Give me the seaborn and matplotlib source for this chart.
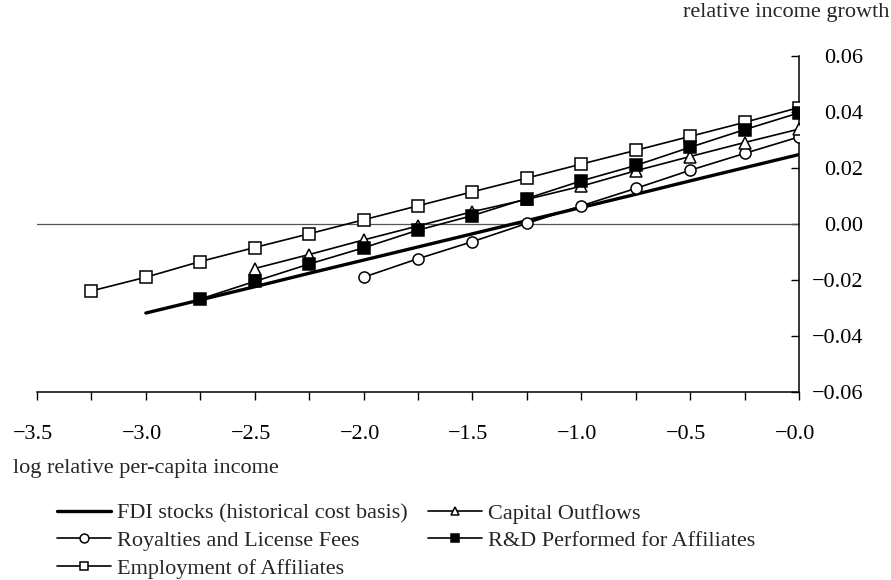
import numpy as np
import pandas as pd
import matplotlib
matplotlib.use("Agg")
import matplotlib.pyplot as plt
import matplotlib.transforms as mtransforms
from matplotlib.ticker import FixedLocator, FuncFormatter
import seaborn as sns

# Relative income growth against log relative per-capita income
fdi_x = [-3.0, -2.75, -2.5, -2.25, -2.0, -1.75, -1.5, -1.25, -1.0, -0.75, -0.5, -0.25, 0.0]
fdi_y = [-0.0318, -0.0271, -0.0224, -0.0176, -0.0129, -0.0082, -0.0035,
         0.0012, 0.0059, 0.0106, 0.0154, 0.0201, 0.0248]

royalties_x = [-2.0, -1.75, -1.5, -1.25, -1.0, -0.75, -0.5, -0.25, 0.0]
royalties_y = [-0.0190, -0.0124, -0.0063, 0.0002, 0.0065, 0.0127, 0.0192, 0.0252, 0.0311]

employment_x = [-3.25, -3.0, -2.75, -2.5, -2.25, -2.0, -1.75, -1.5, -1.25, -1.0,
                -0.75, -0.5, -0.25, 0.0]
employment_y = [-0.0239, -0.0190, -0.0134, -0.0084, -0.0035, 0.0015, 0.0065,
                0.0115, 0.0164, 0.0214, 0.0263, 0.0313, 0.0363, 0.0416]

capital_x = [-2.5, -2.25, -2.0, -1.75, -1.5, -1.25, -1.0, -0.75, -0.5, -0.25, 0.0]
capital_y = [-0.0159, -0.0109, -0.0057, -0.0007, 0.0044, 0.0088, 0.0135,
             0.0190, 0.0241, 0.0291, 0.0339]

rd_x = [-2.75, -2.5, -2.25, -2.0, -1.75, -1.5, -1.25, -1.0, -0.75, -0.5, -0.25, 0.0]
rd_y = [-0.0268, -0.0205, -0.0143, -0.0085, -0.0022, 0.0030, 0.0091, 0.0154,
        0.0209, 0.0274, 0.0337, 0.0397]

series_labels = ["FDI stocks (historical cost basis)", "Royalties and License Fees",
                 "Employment of Affiliates", "Capital Outflows",
                 "R&D Performed for Affiliates"]

x_ticks = [-3.5, -3.25, -3.0, -2.75, -2.5, -2.25, -2.0, -1.75, -1.5, -1.25,
           -1.0, -0.75, -0.5, -0.25, 0.0]
x_label_ticks = [-3.5, -3.0, -2.5, -2.0, -1.5, -1.0, -0.5, 0.0]
y_ticks = [-0.06, -0.04, -0.02, 0.0, 0.02, 0.04, 0.06]

sns.set_style("white")
plt.rcParams["font.family"] = ["Liberation Serif", "DejaVu Serif"]
plt.rcParams["font.size"] = 16
plt.rcParams["axes.unicode_minus"] = True

W, H = 891, 580
fig = plt.figure(figsize=(W / 100, H / 100), dpi=100)
ax = fig.add_axes([37 / W, 1 - 392 / H, (799 - 37) / W, (392 - 56) / H])

# zero reference line
ax.axhline(0, color="#555555", lw=0.9, zorder=1)

line_kw = dict(color="black", lw=1.2, markeredgecolor="black",
               markeredgewidth=1.1, markersize=8)

sns.lineplot(x=fdi_x, y=fdi_y, ax=ax, color="black", lw=2.4,
             label=series_labels[0], zorder=3)
sns.lineplot(x=royalties_x, y=royalties_y, ax=ax, marker="o",
             markerfacecolor="white", label=series_labels[1], zorder=4, **line_kw)
sns.lineplot(x=employment_x, y=employment_y, ax=ax, marker="s",
             markerfacecolor="white", label=series_labels[2], zorder=4, **line_kw)
sns.lineplot(x=capital_x, y=capital_y, ax=ax, marker="^",
             markerfacecolor="white", label=series_labels[3], zorder=5, **line_kw)
sns.lineplot(x=rd_x, y=rd_y, ax=ax, marker="s",
             markerfacecolor="black", label=series_labels[4], zorder=6, **line_kw)

handles, labels = ax.get_legend_handles_labels()
ax.get_legend().remove()

ax.set_xlim(-3.5, 0.0)
ax.set_ylim(-0.06, 0.06)

for side in ("top", "left"):
    ax.spines[side].set_visible(False)
for side in ("right", "bottom"):
    ax.spines[side].set_linewidth(1.1)
    ax.spines[side].set_color("black")

ax.xaxis.set_major_locator(FixedLocator(x_ticks))
ax.xaxis.set_major_formatter(FuncFormatter(
    lambda v, p: ("\u2212%.1f" % abs(v)) if any(abs(v - t) < 1e-9 for t in x_label_ticks) else ""))
ax.yaxis.tick_right()
ax.yaxis.set_major_locator(FixedLocator(y_ticks))
ax.yaxis.set_major_formatter(FuncFormatter(
    lambda v, p: ("\u2212%.2f" % abs(v)) if v < -1e-9 else "%.2f" % abs(v)))

ax.tick_params(axis="x", direction="out", length=6, width=1.0, pad=18,
               labelsize=16, colors="black", bottom=True)
ax.tick_params(axis="y", direction="in", length=6, width=1.0, pad=46,
               labelsize=16, colors="black", right=True, left=False)
for lab in ax.get_yticklabels():
    lab.set_horizontalalignment("right")
shift = mtransforms.ScaledTranslation(-4 / 100, 0, fig.dpi_scale_trans)
for lab in ax.get_xticklabels():
    lab.set_transform(lab.get_transform() + shift)
ax.set_xlabel("")
ax.set_ylabel("")

fig.text(889 / W, 1 - 13 / H, "relative income growth", ha="right", va="center",
         fontsize=16)
fig.text(13 / W, 1 - 469 / H, "log relative per-capita income", ha="left",
         va="center", fontsize=16)

fig.legend(handles, labels, loc="upper left", bbox_to_anchor=(57 / W, 1 - 503 / H),
           ncol=2, frameon=False, fontsize=16, handlelength=2.45,
           handletextpad=0.25, columnspacing=0.9, labelspacing=0.32,
           borderpad=0.0, borderaxespad=0.0, numpoints=1, markerscale=0.8)

fig.savefig("out.png", dpi=100, facecolor="white")
